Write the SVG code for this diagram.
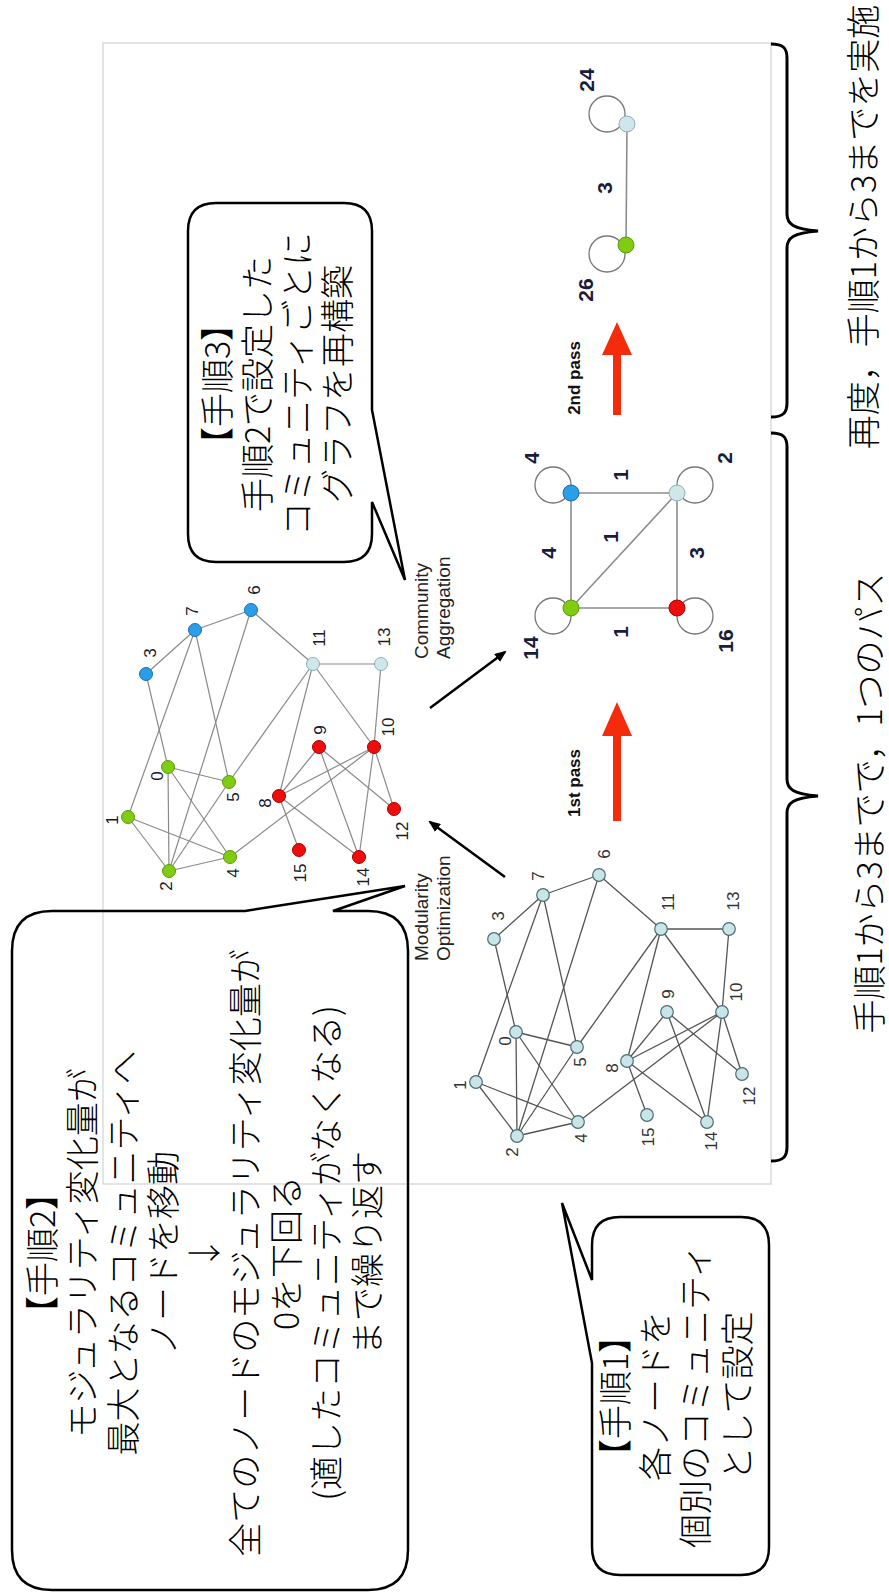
<svg xmlns="http://www.w3.org/2000/svg" width="889" height="1593" viewBox="0 0 889 1593">
<style>
.jp{font-family:"Noto Sans CJK JP","Noto Sans CJK SC",sans-serif;font-size:34px;font-weight:300;fill:#000;text-anchor:middle}
.callout{fill:none;stroke:#000;stroke-width:2.5;stroke-linejoin:miter}
.frame{fill:none;stroke:#d2d2d2;stroke-width:1.2}
.e1{stroke:#555;stroke-width:1.3}
.e2{stroke:#8a8a8a;stroke-width:1.2}
.n1{fill:#c9e5e8;stroke:#4d6e74;stroke-width:1.2}
.green{fill:#7fcc12;stroke:#5e9a0a;stroke-width:1}
.blue{fill:#2a9ee9;stroke:#1a6fb0;stroke-width:1}
.red{fill:#ee0c0c;stroke:#a80000;stroke-width:1}
.light{fill:#cfe7ea;stroke:#8fb0b5;stroke-width:1}
.lb{font-family:"Liberation Sans",Arial,sans-serif;font-size:17px;fill:#333;text-anchor:middle;dominant-baseline:central}
.lb2{font-family:"Liberation Sans",Arial,sans-serif;font-size:17px;fill:#1a1a2a;text-anchor:middle;dominant-baseline:central}
.wt{font-family:"Liberation Sans",Arial,sans-serif;font-size:21px;font-weight:bold;fill:#1b1b3b;text-anchor:middle;dominant-baseline:central}
.cap{font-family:"Liberation Sans",Arial,sans-serif;font-size:19px;fill:#222}
.pass{font-family:"Liberation Sans",Arial,sans-serif;font-size:17px;font-weight:bold;fill:#111;text-anchor:middle;dominant-baseline:central}
.loop{fill:none;stroke:#777;stroke-width:1.3}
.sq{stroke:#8c8c8c;stroke-width:1.6}
.arrow{stroke:#000;stroke-width:2.5;marker-end:url(#ah)}
.redarrow{fill:#f42c0c}
.brace{fill:none;stroke:#000;stroke-width:3}
</style>
<defs>
<marker id="ah" viewBox="0 0 12 10" refX="10" refY="5" markerWidth="12" markerHeight="10" markerUnits="userSpaceOnUse" orient="auto"><path d="M0,0 L12,5 L0,10 z" fill="#000"/></marker>
</defs>
<rect width="889" height="1593" fill="#fff"/>
<g transform="translate(0,1593) rotate(-90)">
<rect class="frame" x="409" y="103" width="1141" height="668"/>

<!-- Graph 1: initial -->
<g id="graph1">
<g id="g1-edges">
<line class="e1" x1="561" y1="516" x2="457" y2="517"/>
<line class="e1" x1="561" y1="516" x2="654" y2="494"/>
<line class="e1" x1="561" y1="516" x2="471" y2="578"/>
<line class="e1" x1="561" y1="516" x2="546" y2="577"/>
<line class="e1" x1="511" y1="476" x2="457" y2="517"/>
<line class="e1" x1="511" y1="476" x2="471" y2="578"/>
<line class="e1" x1="511" y1="476" x2="698" y2="543"/>
<line class="e1" x1="457" y1="517" x2="471" y2="578"/>
<line class="e1" x1="457" y1="517" x2="546" y2="577"/>
<line class="e1" x1="457" y1="517" x2="718" y2="599"/>
<line class="e1" x1="654" y1="494" x2="698" y2="543"/>
<line class="e1" x1="471" y1="578" x2="581" y2="722"/>
<line class="e1" x1="546" y1="577" x2="698" y2="543"/>
<line class="e1" x1="546" y1="577" x2="664" y2="661"/>
<line class="e1" x1="718" y1="599" x2="698" y2="543"/>
<line class="e1" x1="718" y1="599" x2="664" y2="661"/>
<line class="e1" x1="532" y1="627" x2="581" y2="667"/>
<line class="e1" x1="532" y1="627" x2="581" y2="722"/>
<line class="e1" x1="532" y1="627" x2="664" y2="661"/>
<line class="e1" x1="532" y1="627" x2="471" y2="707"/>
<line class="e1" x1="532" y1="627" x2="478" y2="647"/>
<line class="e1" x1="581" y1="667" x2="519" y2="742"/>
<line class="e1" x1="581" y1="667" x2="471" y2="707"/>
<line class="e1" x1="581" y1="722" x2="664" y2="661"/>
<line class="e1" x1="581" y1="722" x2="519" y2="742"/>
<line class="e1" x1="581" y1="722" x2="664" y2="729"/>
<line class="e1" x1="581" y1="722" x2="471" y2="707"/>
<line class="e1" x1="664" y1="661" x2="664" y2="729"/>
</g>
<g id="g1-n0"><circle class="n1" cx="561" cy="516" r="6.3"/><text class="lb" x="552" y="505">0</text></g>
<g id="g1-n1"><circle class="n1" cx="511" cy="476" r="6.3"/><text class="lb" x="508" y="460">1</text></g>
<g id="g1-n2"><circle class="n1" cx="457" cy="517" r="6.3"/><text class="lb" x="441" y="512">2</text></g>
<g id="g1-n3"><circle class="n1" cx="654" cy="494" r="6.3"/><text class="lb" x="677" y="498">3</text></g>
<g id="g1-n4"><circle class="n1" cx="471" cy="578" r="6.3"/><text class="lb" x="455" y="581">4</text></g>
<g id="g1-n5"><circle class="n1" cx="546" cy="577" r="6.3"/><text class="lb" x="531" y="580">5</text></g>
<g id="g1-n6"><circle class="n1" cx="718" cy="599" r="6.3"/><text class="lb" x="739" y="604">6</text></g>
<g id="g1-n7"><circle class="n1" cx="698" cy="543" r="6.3"/><text class="lb" x="717" y="538">7</text></g>
<g id="g1-n8"><circle class="n1" cx="532" cy="627" r="6.3"/><text class="lb" x="525" y="612">8</text></g>
<g id="g1-n9"><circle class="n1" cx="581" cy="667" r="6.3"/><text class="lb" x="599" y="668">9</text></g>
<g id="g1-n10"><circle class="n1" cx="581" cy="722" r="6.3"/><text class="lb" x="601" y="736">10</text></g>
<g id="g1-n11"><circle class="n1" cx="664" cy="661" r="6.3"/><text class="lb" x="691" y="668">11</text></g>
<g id="g1-n12"><circle class="n1" cx="519" cy="742" r="6.3"/><text class="lb" x="497" y="749">12</text></g>
<g id="g1-n13"><circle class="n1" cx="664" cy="729" r="6.3"/><text class="lb" x="692" y="733">13</text></g>
<g id="g1-n14"><circle class="n1" cx="471" cy="707" r="6.3"/><text class="lb" x="452" y="711">14</text></g>
<g id="g1-n15"><circle class="n1" cx="478" cy="647" r="6.3"/><text class="lb" x="456" y="648">15</text></g>
</g>

<!-- Graph 2: communities -->
<g id="graph2" transform="translate(265,-348)">
<g id="g2-edges">
<line class="e2" x1="561" y1="516" x2="457" y2="517"/>
<line class="e2" x1="561" y1="516" x2="654" y2="494"/>
<line class="e2" x1="561" y1="516" x2="471" y2="578"/>
<line class="e2" x1="561" y1="516" x2="546" y2="577"/>
<line class="e2" x1="511" y1="476" x2="457" y2="517"/>
<line class="e2" x1="511" y1="476" x2="471" y2="578"/>
<line class="e2" x1="511" y1="476" x2="698" y2="543"/>
<line class="e2" x1="457" y1="517" x2="471" y2="578"/>
<line class="e2" x1="457" y1="517" x2="546" y2="577"/>
<line class="e2" x1="457" y1="517" x2="718" y2="599"/>
<line class="e2" x1="654" y1="494" x2="698" y2="543"/>
<line class="e2" x1="471" y1="578" x2="581" y2="722"/>
<line class="e2" x1="546" y1="577" x2="698" y2="543"/>
<line class="e2" x1="546" y1="577" x2="664" y2="661"/>
<line class="e2" x1="718" y1="599" x2="698" y2="543"/>
<line class="e2" x1="718" y1="599" x2="664" y2="661"/>
<line class="e2" x1="532" y1="627" x2="581" y2="667"/>
<line class="e2" x1="532" y1="627" x2="581" y2="722"/>
<line class="e2" x1="532" y1="627" x2="664" y2="661"/>
<line class="e2" x1="532" y1="627" x2="471" y2="707"/>
<line class="e2" x1="532" y1="627" x2="478" y2="647"/>
<line class="e2" x1="581" y1="667" x2="519" y2="742"/>
<line class="e2" x1="581" y1="667" x2="471" y2="707"/>
<line class="e2" x1="581" y1="722" x2="664" y2="661"/>
<line class="e2" x1="581" y1="722" x2="519" y2="742"/>
<line class="e2" x1="581" y1="722" x2="664" y2="729"/>
<line class="e2" x1="581" y1="722" x2="471" y2="707"/>
<line class="e2" x1="664" y1="661" x2="664" y2="729"/>
</g>
<g id="g2-n0"><circle class="green" cx="561" cy="516" r="6.5"/><text class="lb2" x="552" y="505">0</text></g>
<g id="g2-n1"><circle class="green" cx="511" cy="476" r="6.5"/><text class="lb2" x="508" y="460">1</text></g>
<g id="g2-n2"><circle class="green" cx="457" cy="517" r="6.5"/><text class="lb2" x="442" y="514">2</text></g>
<g id="g2-n3"><circle class="blue" cx="654" cy="494" r="6.5"/><text class="lb2" x="675" y="498">3</text></g>
<g id="g2-n4"><circle class="green" cx="471" cy="578" r="6.5"/><text class="lb2" x="455" y="581">4</text></g>
<g id="g2-n5"><circle class="green" cx="546" cy="577" r="6.5"/><text class="lb2" x="531" y="581">5</text></g>
<g id="g2-n6"><circle class="blue" cx="718" cy="599" r="6.5"/><text class="lb2" x="738" y="602">6</text></g>
<g id="g2-n7"><circle class="blue" cx="698" cy="543" r="6.5"/><text class="lb2" x="717" y="540">7</text></g>
<g id="g2-n8"><circle class="red" cx="532" cy="627" r="6.5"/><text class="lb2" x="525" y="613">8</text></g>
<g id="g2-n9"><circle class="red" cx="581" cy="667" r="6.5"/><text class="lb2" x="598" y="668">9</text></g>
<g id="g2-n10"><circle class="red" cx="581" cy="722" r="6.5"/><text class="lb2" x="601" y="736">10</text></g>
<g id="g2-n11"><circle class="light" cx="664" cy="661" r="6.5"/><text class="lb2" x="690" y="667">11</text></g>
<g id="g2-n12"><circle class="red" cx="519" cy="742" r="6.5"/><text class="lb2" x="497" y="750">12</text></g>
<g id="g2-n13"><circle class="light" cx="664" cy="729" r="6.5"/><text class="lb2" x="691" y="732">13</text></g>
<g id="g2-n14"><circle class="red" cx="471" cy="707" r="6.5"/><text class="lb2" x="451" y="711">14</text></g>
<g id="g2-n15"><circle class="red" cx="478" cy="647" r="6.5"/><text class="lb2" x="455" y="648">15</text></g>
</g>

<!-- connectors -->
<g id="connectors">
<line class="arrow" x1="716" y1="505" x2="771" y2="430"/>
<line class="arrow" x1="885" y1="430" x2="941" y2="505"/>
<polygon class="redarrow" points="772,613 857,613 857,602 891,617 857,632 857,621 772,621"/>
<polygon class="redarrow" points="1178,613 1238,613 1238,602 1271,617 1238,632 1238,621 1178,621"/>
<line class="sq" x1="1100" y1="571" x2="1100" y2="677"/>
<line class="sq" x1="985" y1="571" x2="1100" y2="571"/>
<line class="sq" x1="985" y1="677" x2="1100" y2="677"/>
<line class="sq" x1="985" y1="571" x2="985" y2="677"/>
<line class="sq" x1="985" y1="571" x2="1100" y2="677"/>
<line class="sq" x1="1348" y1="626" x2="1469" y2="627"/>
<circle class="loop" cx="1108" cy="553" r="18"/>
<circle class="loop" cx="1108" cy="695" r="18"/>
<circle class="loop" cx="977" cy="553" r="18"/>
<circle class="loop" cx="977" cy="695" r="18"/>
<circle class="loop" cx="1339" cy="607" r="18"/>
<circle class="loop" cx="1479" cy="607" r="18"/>
</g>

<g id="text-mo"><text class="cap" x="632" y="428">Modularity</text><text class="cap" x="632" y="450">Optimization</text></g>
<g id="text-ca"><text class="cap" x="934" y="428">Community</text><text class="cap" x="934" y="450">Aggregation</text></g>
<g id="text-pass1"><text class="pass" x="810" y="574">1st pass</text></g>
<g id="text-pass2"><text class="pass" x="1215" y="574">2nd pass</text></g>

<!-- Square graph -->
<g id="sq-blue"><circle class="blue" cx="1100" cy="571" r="8"/><text class="wt" x="1135" y="531">4</text></g>
<g id="sq-light"><circle class="light" cx="1100" cy="677" r="8"/><text class="wt" x="1135" y="724">2</text></g>
<g id="sq-green"><circle class="green" cx="985" cy="571" r="8"/><text class="wt" x="945" y="530">14</text></g>
<g id="sq-red"><circle class="red" cx="985" cy="677" r="8"/><text class="wt" x="952" y="725">16</text></g>
<g id="sq-weights">
<text class="wt" x="1118" y="620">1</text>
<text class="wt" x="1040" y="548">4</text>
<text class="wt" x="1056" y="610">1</text>
<text class="wt" x="1040" y="696">3</text>
<text class="wt" x="961" y="620">1</text>
</g>

<!-- Final graph -->
<g id="fin-green"><circle class="green" cx="1348" cy="626" r="8"/><text class="wt" x="1303" y="585">26</text></g>
<g id="fin-light"><circle class="light" cx="1469" cy="627" r="8"/><text class="wt" x="1513" y="586">24</text></g>
<g id="fin-weight"><text class="wt" x="1405" y="604">3</text></g>

<!-- Callout 2 -->
<g id="callout2">
<path class="callout" d="M 682 333 L 682 368 Q 682 408 642 408 L 43 408 Q 3 408 3 368 L 3 52 Q 3 12 43 12 L 642 12 Q 682 12 682 52 L 682 245 L 707 405 Z"/>
<text class="jp" x="340" y="55">【手順2】</text>
<text class="jp" x="340" y="95">モジュラリティ変化量が</text>
<text class="jp" x="340" y="136">最大となるコミュニティへ</text>
<text class="jp" x="340" y="176">ノードを移動</text>
<text class="jp" x="340" y="217">↓</text>
<text class="jp" x="340" y="258">全てのノードのモジュラリティ変化量が</text>
<text class="jp" x="340" y="299">0を下回る</text>
<text class="jp" x="340" y="339">(適したコミュニティがなくなる)</text>
<text class="jp" x="340" y="380">まで繰り返す</text>
</g>

<!-- Callout 1 -->
<g id="callout1">
<path class="callout" d="M 230 592 L 46 592 Q 18 592 18 620 L 18 741 Q 18 769 46 769 L 348 769 Q 376 769 376 741 L 376 620 Q 376 592 348 592 L 313 592 L 390 562 Z"/>
<text class="jp" x="197" y="628">【手順1】</text>
<text class="jp" x="197" y="668">各ノードを</text>
<text class="jp" x="197" y="708">個別のコミュニティ</text>
<text class="jp" x="197" y="750">として設定</text>
</g>

<!-- Callout 3 -->
<g id="callout3">
<path class="callout" d="M 1091 372 L 1059 372 Q 1031 372 1031 344 L 1031 216 Q 1031 188 1059 188 L 1362 188 Q 1390 188 1390 216 L 1390 344 Q 1390 372 1362 372 L 1183 372 L 1013 405 Z"/>
<text class="jp" x="1209" y="230">【手順3】</text>
<text class="jp" x="1209" y="270">手順2で設定した</text>
<text class="jp" x="1209" y="310">コミュニティごとに</text>
<text class="jp" x="1209" y="350">グラフを再構築</text>
</g>

<!-- Braces -->
<g id="brace1">
<path class="brace" d="M 432 771 C 432 783 436 787 446 787 L 780 787 C 790 787 795 793 797 818 C 799 793 804 787 814 787 L 1146 787 C 1156 787 1160 783 1160 771"/>
<text class="jp" x="790" y="882">手順1から3までで，1つのパス</text>
</g>
<g id="brace2">
<path class="brace" d="M 1176 771 C 1176 783 1180 787 1190 787 L 1345 787 C 1355 787 1360 793 1362 818 C 1364 793 1369 787 1379 787 L 1535 787 C 1545 787 1549 783 1549 771"/>
<text class="jp" x="1366" y="876">再度，手順1から3までを実施</text>
</g>
</g>
</svg>
